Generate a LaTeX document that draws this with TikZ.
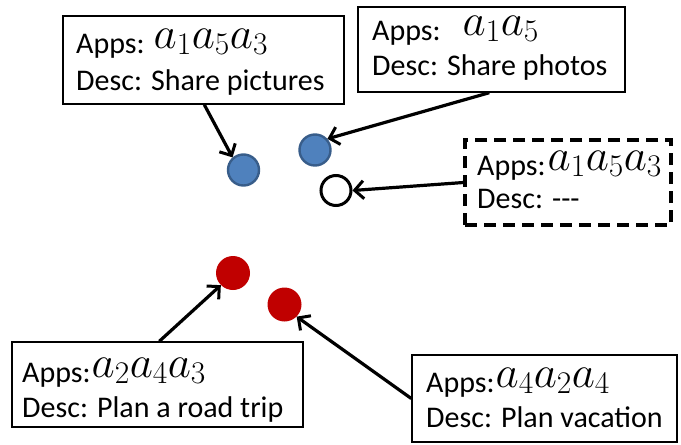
\documentclass[tikz,border=0pt]{standalone}
\usepackage{fix-cm}
\usepackage{fontspec}
\setmainfont{Carlito}
\usetikzlibrary{arrows.meta}
\definecolor{dotblue}{HTML}{4F81BD}
\definecolor{dotblueline}{HTML}{385D8A}
\definecolor{dotred}{HTML}{C00000}
\newcommand{\mth}[1]{\raisebox{5pt}{\fontsize{45}{45}\selectfont$#1$}}
\tikzset{
  box/.style={draw=black, line width=1.4pt, rectangle, inner sep=0pt},
  dbox/.style={draw=black, line width=3.2pt, rectangle, inner sep=0pt, dash pattern=on 12pt off 7pt},
  txt/.style={anchor=base west, inner sep=0pt, font=\fontsize{30}{36}\selectfont},
  bdot/.style={circle, fill=dotblue, draw=dotblueline, line width=2.4pt, minimum size=31pt, inner sep=0pt},
  wdot/.style={circle, fill=white, draw=black, line width=3pt, minimum size=30pt, inner sep=0pt},
  rdot/.style={circle, fill=dotred, minimum size=34pt, inner sep=0pt},
  arr/.style={line width=3.2pt, -{Straight Barb[length=9pt,width=18pt,line width=3pt]}}
}
\begin{document}
\begin{tikzpicture}[x=1pt,y=-1pt]
\useasboundingbox (0,0) rectangle (681,445);
% boxes
\node[box, minimum width=281pt, minimum height=88pt] (b1) at (203.5,60) {};
\node[box, minimum width=267pt, minimum height=85pt] (b2) at (491.5,49.5) {};
\node[dbox, minimum width=206pt, minimum height=85pt] (b3) at (568,182.5) {};
\node[box, minimum width=291pt, minimum height=85pt] (b4) at (157.5,384.5) {};
\node[box, minimum width=265pt, minimum height=87pt] (b5) at (544.5,398.5) {};
% texts
\node[txt] (t1a) at (76,53) {Apps: \mth{a_1a_5a_3}};
\node[txt] (t1d) at (76,90) {Desc: Share pictures};
\node[txt] (t2a) at (372,40) {Apps:\hspace{22pt}\mth{a_1a_5}};
\node[txt] (t2d) at (372,75) {Desc: Share photos};
\node[txt] (t3a) at (477,175) {Apps:\hspace{2pt}\mth{a_1a_5a_3}};
\node[txt] (t3d) at (477,208) {Desc: -{}-{}-};
\node[txt] (t4a) at (22,382) {Apps:\hspace{1pt}\mth{a_2a_4a_3}};
\node[txt] (t4d) at (22,417) {Desc: Plan a road trip};
\node[txt] (t5a) at (426,392) {Apps:\hspace{1pt}\mth{a_4a_2a_4}};
\node[txt] (t5d) at (426,427) {Desc: Plan vacation};
% dots
\node[bdot] (blue1) at (243.5,170) {};
\node[bdot] (blue2) at (315,150) {};
\node[wdot] (white) at (336,190.5) {};
\node[rdot] (red1) at (233,273) {};
\node[rdot] (red2) at (284.5,304.5) {};
% arrows
\draw[arr] ([xshift=142pt]b1.south west) -- (blue1.131);
\draw[arr] ([xshift=132pt]b2.south west) -- (blue2.42);
\draw[arr] (b3.west) -- (white.east);
\draw[arr] ([xshift=148pt]b4.north west) -- (red1.225);
\draw[arr] (b5.west) -- (red2.315);
\end{tikzpicture}
\end{document}
